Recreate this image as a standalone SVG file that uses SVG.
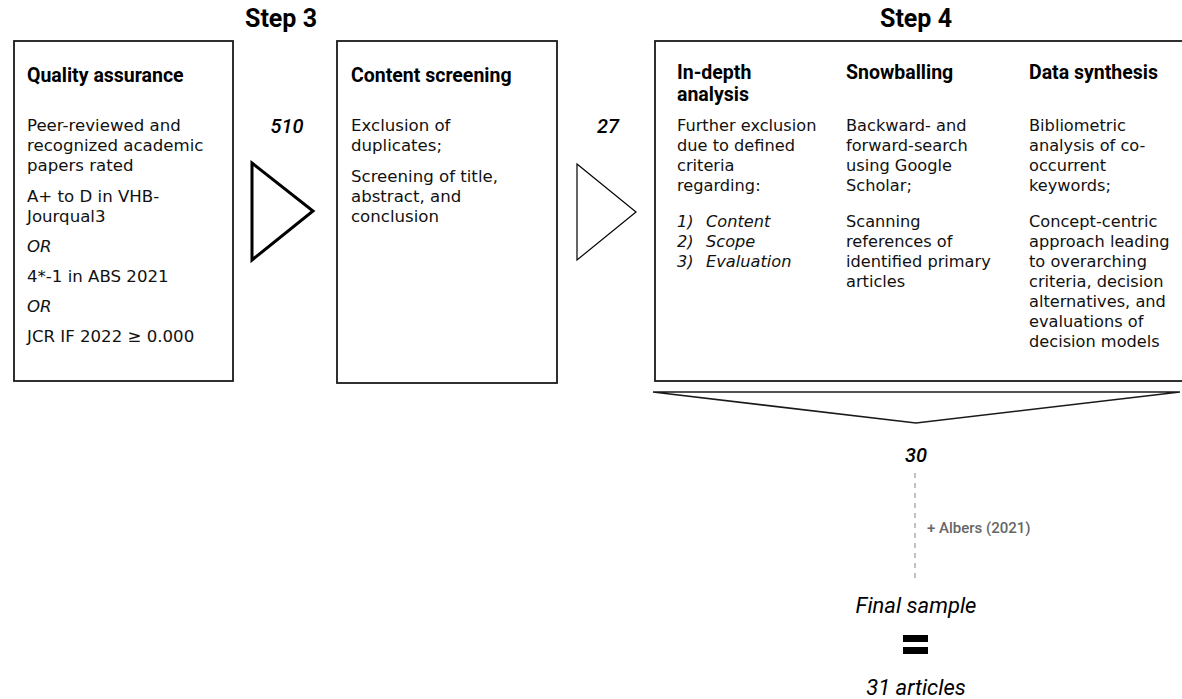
<svg xmlns="http://www.w3.org/2000/svg" width="1182" height="699" viewBox="0 0 1182 699">
<style>
.box{fill:#fff;stroke:#1a1a1a;stroke-width:1.8}
.h{font-family:Roboto,"Liberation Sans",sans-serif;font-weight:700;font-size:19.5px;fill:#000}
.step{font-family:Roboto,"Liberation Sans",sans-serif;font-weight:700;font-size:25px;fill:#000;text-anchor:middle}
.b{font-family:"DejaVu Sans",Verdana,sans-serif;font-size:16.6px;fill:#111}
.c{font-size:16.2px}
.i{font-style:italic}
.num{font-family:Roboto,"Liberation Sans",sans-serif;font-style:italic;font-weight:500;font-size:20px;fill:#000;text-anchor:middle}
.big{font-family:Roboto,"Liberation Sans",sans-serif;font-style:italic;font-weight:400;font-size:22px;fill:#000;text-anchor:middle}
.note{font-family:Roboto,"Liberation Sans",sans-serif;font-weight:500;font-size:15px;fill:#666}
</style>
<rect width="1182" height="699" fill="#fff"/>
<text class="step" x="281" y="27">Step 3</text>
<text class="step" x="916" y="27">Step 4</text>

<g id="quality-assurance">
<rect class="box" x="14" y="41" width="219" height="340"/>
<text class="h" x="27" y="82">Quality assurance</text>
<text class="b" x="27" y="131">Peer-reviewed and</text>
<text class="b" x="27" y="151">recognized academic</text>
<text class="b" x="27" y="171">papers rated</text>
<text class="b" x="27" y="202">A+ to D in VHB-</text>
<text class="b" x="27" y="222">Jourqual3</text>
<text class="b i" x="27" y="252">OR</text>
<text class="b" x="27" y="282">4*-1 in ABS 2021</text>
<text class="b i" x="27" y="312">OR</text>
<text class="b" x="27" y="342">JCR IF 2022 ≥ 0.000</text>
</g>

<g id="content-screening">
<rect class="box" x="337" y="41" width="220" height="342"/>
<text class="h" x="351" y="82">Content screening</text>
<text class="b" x="351" y="131">Exclusion of</text>
<text class="b" x="351" y="151">duplicates;</text>
<text class="b" x="351" y="182">Screening of title,</text>
<text class="b" x="351" y="202">abstract, and</text>
<text class="b" x="351" y="222">conclusion</text>
</g>

<g id="step4">
<rect class="box" x="655" y="41" width="535" height="340"/>
<text class="h" x="677" y="79">In-depth</text>
<text class="h" x="677" y="101">analysis</text>
<text class="b c" x="677" y="131">Further exclusion</text>
<text class="b c" x="677" y="151">due to defined</text>
<text class="b c" x="677" y="171">criteria</text>
<text class="b c" x="677" y="191">regarding:</text>
<text class="b c i" x="677" y="227">1)</text><text class="b c i" x="706" y="227">Content</text>
<text class="b c i" x="677" y="247">2)</text><text class="b c i" x="706" y="247">Scope</text>
<text class="b c i" x="677" y="267">3)</text><text class="b c i" x="706" y="267">Evaluation</text>

<text class="h" x="846" y="79">Snowballing</text>
<text class="b c" x="846" y="131">Backward- and</text>
<text class="b c" x="846" y="151">forward-search</text>
<text class="b c" x="846" y="171">using Google</text>
<text class="b c" x="846" y="191">Scholar;</text>
<text class="b c" x="846" y="227">Scanning</text>
<text class="b c" x="846" y="247">references of</text>
<text class="b c" x="846" y="267">identified primary</text>
<text class="b c" x="846" y="287">articles</text>

<text class="h" x="1029" y="79">Data synthesis</text>
<text class="b c" x="1029" y="131">Bibliometric</text>
<text class="b c" x="1029" y="151">analysis of co-</text>
<text class="b c" x="1029" y="171">occurrent</text>
<text class="b c" x="1029" y="191">keywords;</text>
<text class="b c" x="1029" y="227">Concept-centric</text>
<text class="b c" x="1029" y="247">approach leading</text>
<text class="b c" x="1029" y="267">to overarching</text>
<text class="b c" x="1029" y="287">criteria, decision</text>
<text class="b c" x="1029" y="307">alternatives, and</text>
<text class="b c" x="1029" y="327">evaluations of</text>
<text class="b c" x="1029" y="347">decision models</text>
</g>

<g id="connectors">
<polygon points="252,163 313,211 252,260" fill="#fff" stroke="#000" stroke-width="3" stroke-linejoin="miter"/>
<polygon points="577,164 636,212 577,260" fill="#fff" stroke="#000" stroke-width="1.2"/>
<polygon points="653,392 1180,392 916,423" fill="#fff" stroke="#1a1a1a" stroke-width="1.6"/>
<line x1="915" y1="473" x2="915" y2="583" stroke="#999" stroke-width="1.2" stroke-dasharray="5,5"/>
</g>

<g id="labels">
<text class="num" x="287" y="133">510</text>
<text class="num" x="608" y="133">27</text>
<text class="num" x="916" y="462">30</text>
<text class="note" x="927" y="533">+ Albers (2021)</text>
</g>

<g id="final-sample">
<text class="big" x="916" y="613">Final sample</text>
<rect x="903" y="635" width="25" height="7" fill="#000"/>
<rect x="903" y="647" width="25" height="7" fill="#000"/>
<text class="big" x="916" y="695">31 articles</text>
</g>
</svg>
